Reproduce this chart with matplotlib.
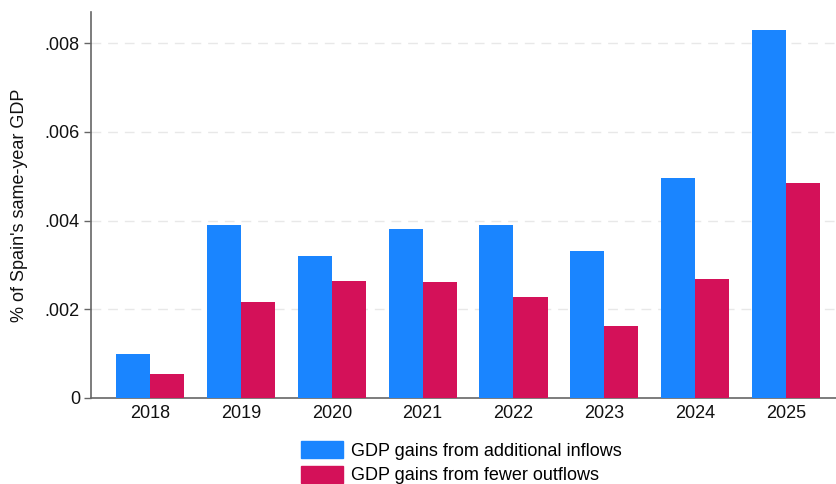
import matplotlib
matplotlib.use("Agg")
import matplotlib.pyplot as plt
import numpy as np
from matplotlib.patches import Patch

years = ["2018", "2019", "2020", "2021", "2022", "2023", "2024", "2025"]
inflows = [0.00099, 0.00390, 0.00320, 0.00381, 0.00390, 0.00331, 0.00496, 0.00829]
outflows = [0.00054, 0.00216, 0.00264, 0.00261, 0.00228, 0.00162, 0.00268, 0.00485]
yticks = [0, 0.002, 0.004, 0.006, 0.008]
ytick_labels = ["0", ".002", ".004", ".006", ".008"]
series_labels = ["GDP gains from additional inflows", "GDP gains from fewer outflows"]
colors = ["#1a85ff", "#d41159"]

plt.rcParams['font.family'] = ['Liberation Sans', 'DejaVu Sans']

fig = plt.figure(figsize=(8.36, 4.84), dpi=100)
ax = fig.add_axes([91/836, 1 - 398/484, 1 - 91/836, (398 - 12)/484])

x = np.arange(len(years))
w = 0.375
ax.bar(x - w/2, inflows, width=w, color=colors[0], zorder=3)
ax.bar(x + w/2, outflows, width=w, color=colors[1], zorder=3)

ax.set_xlim(-0.65, 7.55)
ax.set_ylim(0, 0.0087)
ax.set_xticks(x)
ax.set_xticklabels(years)
ax.set_yticks(yticks)
ax.set_yticklabels(ytick_labels)
ax.tick_params(axis='x', length=0, labelsize=13, pad=5, labelcolor='#111111')
ax.tick_params(axis='y', length=5, width=1, color='#666666', labelsize=13, labelcolor='#111111', pad=3)

for y in yticks[1:]:
    ax.axhline(y, color='#e8e8e8', lw=1, ls=(0, (7, 5)), zorder=1)

for s in ['top', 'right']:
    ax.spines[s].set_visible(False)
ax.spines['left'].set_color('#666666')
ax.spines['bottom'].set_color('#666666')
ax.spines['left'].set_linewidth(1.2)
ax.spines['bottom'].set_linewidth(1.2)

ax.set_ylabel("% of Spain's same-year GDP", fontsize=13, color='#111111', labelpad=12)

handles = [Patch(color=c) for c in colors]
fig.legend(handles, series_labels, loc='upper left', bbox_to_anchor=(292/836, 1 - 432/484),
           frameon=False, fontsize=13, borderpad=0, handlelength=2.3, handleheight=1.05,
           handletextpad=0.45, labelspacing=0.35)

fig.savefig("out.png", dpi=100, facecolor='white')
